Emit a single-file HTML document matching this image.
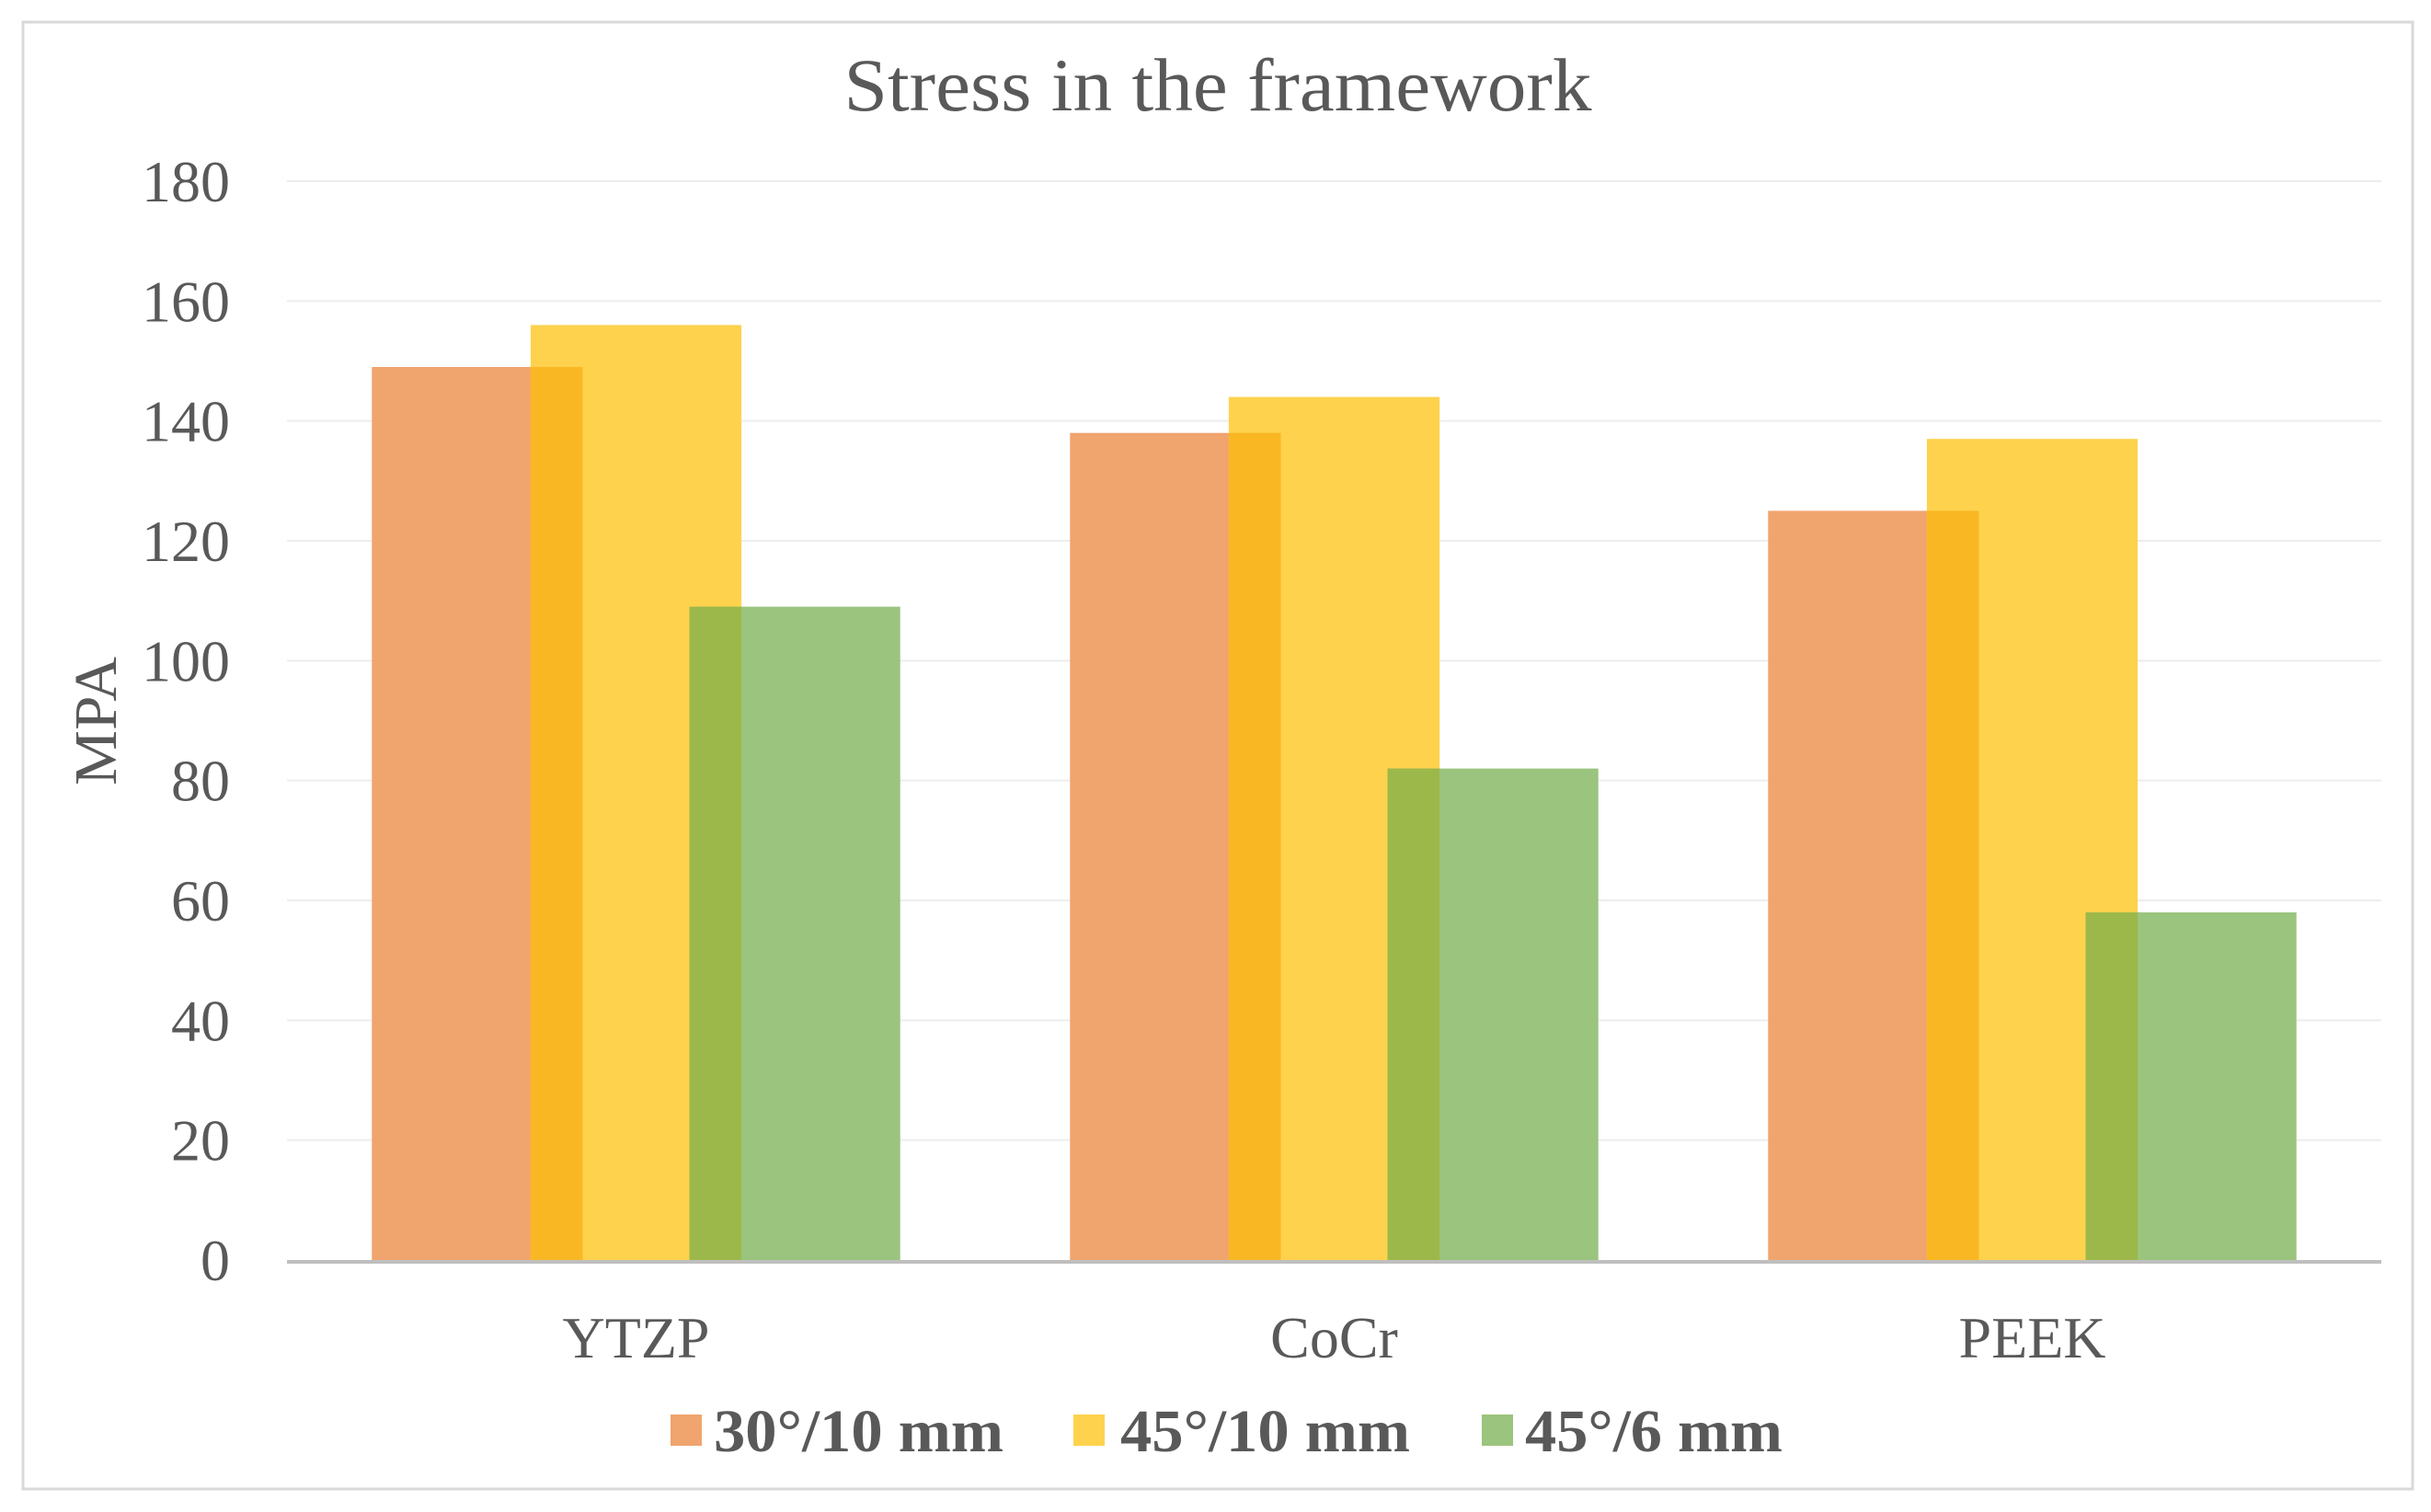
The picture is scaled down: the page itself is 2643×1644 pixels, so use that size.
<!DOCTYPE html>
<html><head><meta charset="utf-8"><style>
html,body{margin:0;padding:0;background:#fff;}
svg{display:block;font-family:"Liberation Serif",serif;}
</style></head><body>
<svg id="chart" width="2643" height="1644" viewBox="0 0 2643 1644" xmlns="http://www.w3.org/2000/svg">
<rect x="25" y="24" width="2598" height="1595" fill="#fff" stroke="#D9D9D9" stroke-width="3"/>
<text x="1324" y="120" text-anchor="middle" font-size="82" fill="#595959" textLength="813" lengthAdjust="spacingAndGlyphs">Stress in the framework</text>
<g id="grid"></g><g id="bars"></g><g id="labels"></g>
<text transform="translate(126,784) rotate(-90)" text-anchor="middle" font-size="66" fill="#595959" textLength="140" lengthAdjust="spacingAndGlyphs">MPA</text>
<g>
<rect x="729" y="1538" width="34" height="34" fill="#F0A46E"/>
<text x="776" y="1578" font-size="66" font-weight="bold" fill="#595959" textLength="315" lengthAdjust="spacingAndGlyphs">30°/10 mm</text>
<rect x="1167" y="1538" width="34" height="34" fill="#FED24D"/>
<text x="1218" y="1578" font-size="66" font-weight="bold" fill="#595959" textLength="315" lengthAdjust="spacingAndGlyphs">45°/10 mm</text>
<rect x="1611" y="1538" width="34" height="34" fill="#9BC47E"/>
<text x="1658" y="1578" font-size="66" font-weight="bold" fill="#595959" textLength="280" lengthAdjust="spacingAndGlyphs">45°/6 mm</text>
</g>
</svg>
<script>
const categories = ["YTZP", "CoCr", "PEEK"];
const s30_10 = [149, 138, 125];
const s45_10 = [156, 144, 137];
const s45_6 = [109, 82, 58];
const yTicks = [0, 20, 40, 60, 80, 100, 120, 140, 160, 180];

const NS = "http://www.w3.org/2000/svg";
const plotLeft = 312, plotRight = 2589, plotBase = 1370, plotTop = 197, yMax = 180;
const yScale = v => plotBase - (v / yMax) * (plotBase - plotTop);
const catW = (plotRight - plotLeft) / categories.length;
const barW = catW * 0.302, barStep = barW * 0.753;
const groupW = barW + 2 * barStep;
const bx = (ci, si) => plotLeft + ci * catW + (catW - groupW) / 2 + si * barStep;

function mk(tag, attrs, parent) {
  const e = document.createElementNS(NS, tag);
  for (const k in attrs) e.setAttribute(k, attrs[k]);
  parent.appendChild(e);
  return e;
}
const gridG = document.getElementById("grid");
const barsG = document.getElementById("bars");
const labelsG = document.getElementById("labels");

yTicks.forEach(t => {
  if (t > 0) {
    const g = mk("line", {x1: plotLeft, x2: plotRight, y1: yScale(t), y2: yScale(t), stroke: "#EDEDED", "stroke-width": 2}, gridG);
    
    
  }
  const tl = mk("text", {x: 250, y: yScale(t) + 22, "text-anchor": "end", "font-size": 64, fill: "#595959"}, labelsG);
  tl.textContent = t;
  
  
});

const seriesList = [s30_10, s45_10, s45_6];
const colors = ["#F0A46E", "#FED24D", "#9BC47E"];
const overlapColors = ["#F9B724", "#9DB84A"];
categories.forEach((c, ci) => {
  seriesList.forEach((s, si) => {
    const r = mk("rect", {x: bx(ci, si), y: yScale(s[ci]), width: barW, height: plotBase - yScale(s[ci]), fill: colors[si]}, barsG);
    
    
    if (si > 0) {
      const h = Math.min(s[ci], seriesList[si - 1][ci]);
      const o = mk("rect", {x: bx(ci, si), y: yScale(h), width: bx(ci, si - 1) + barW - bx(ci, si), height: plotBase - yScale(h), fill: overlapColors[si - 1]}, barsG);
      
      
    }
  });
  const cl = mk("text", {x: plotLeft + ci * catW + catW / 2, y: 1476, "text-anchor": "middle", "font-size": 64, fill: "#595959"}, labelsG);
  cl.textContent = c;
  
  
});
const ax = mk("line", {x1: plotLeft, x2: plotRight, y1: plotBase + 2, y2: plotBase + 2, stroke: "#BFBFBF", "stroke-width": 4}, barsG);


</script>
</body></html>
